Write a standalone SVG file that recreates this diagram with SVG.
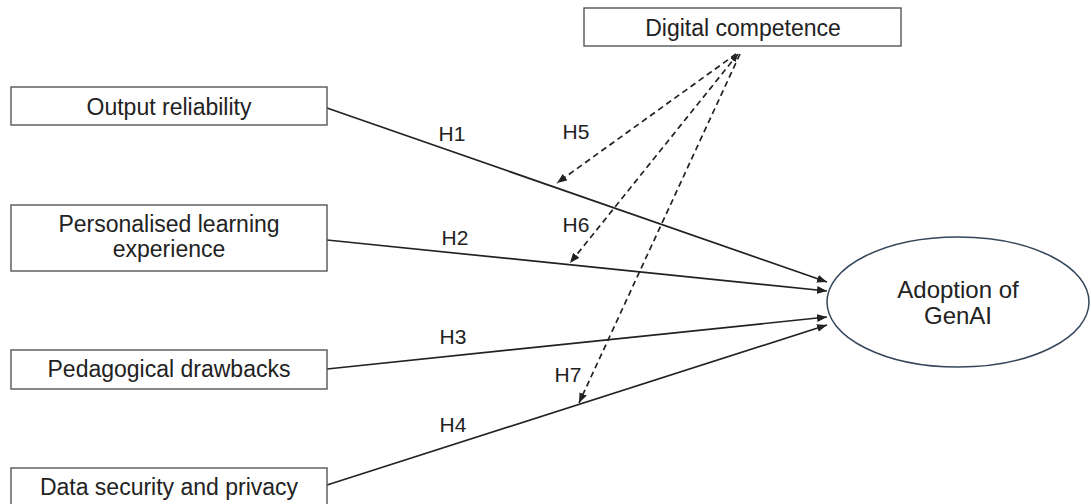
<svg xmlns="http://www.w3.org/2000/svg" width="1091" height="504" viewBox="0 0 1091 504">
<defs>
<style>
.box{fill:#fff;stroke:#555;stroke-width:1.4}
.ell{fill:#fff;stroke:#34475a;stroke-width:1.5}
.t{font-family:"Liberation Sans",Arial,sans-serif;font-size:23px;fill:#222;text-anchor:middle}
.e{font-family:"Liberation Sans",Arial,sans-serif;font-size:24px;fill:#222;text-anchor:middle}
.h{font-family:"Liberation Sans",Arial,sans-serif;font-size:21px;fill:#222;text-anchor:middle}
.solid{stroke:#222;stroke-width:1.7;fill:none;marker-end:url(#ah)}
.dash{stroke:#222;stroke-width:1.7;fill:none;stroke-dasharray:6 4;marker-end:url(#ah)}
</style>
<marker id="ah" viewBox="0 0 10 8" refX="10" refY="4" markerWidth="10" markerHeight="8" markerUnits="userSpaceOnUse" orient="auto">
<path d="M0,0 L10,4 L0,8 Z" fill="#222"/>
</marker>
<marker id="as" viewBox="0 0 10 8" refX="0" refY="4" markerWidth="8" markerHeight="7" markerUnits="userSpaceOnUse" orient="auto">
<path d="M10,0 L0,4 L10,8 Z" fill="#222"/>
</marker>
</defs>
<rect width="1091" height="504" fill="#fff"/>
<g id="connectors">
<line class="solid" x1="327" y1="108" x2="827" y2="282"/>
<line class="solid" x1="327" y1="240" x2="827" y2="291"/>
<line class="solid" x1="327" y1="369" x2="827" y2="317"/>
<line class="solid" x1="327" y1="485" x2="827" y2="325"/>
<line class="dash" x1="736" y1="54" x2="557" y2="183"/>
<line class="dash" x1="738" y1="54" x2="570" y2="263" marker-start="url(#as)"/>
<line class="dash" x1="740" y1="54" x2="579" y2="403"/>
<text class="h" x="452" y="141">H1</text>
<text class="h" x="455" y="245">H2</text>
<text class="h" x="453" y="344">H3</text>
<text class="h" x="453" y="432">H4</text>
<text class="h" x="576" y="139">H5</text>
<text class="h" x="576" y="232">H6</text>
<text class="h" x="568" y="382">H7</text>
</g>
<g id="digital-competence">
<rect class="box" x="584" y="8" width="317" height="38"/>
<text class="t" x="743" y="36">Digital competence</text>
</g>
<g id="output-reliability">
<rect class="box" x="11" y="87" width="316" height="38"/>
<text class="t" x="169" y="115">Output reliability</text>
</g>
<g id="personalised-learning">
<rect class="box" x="11" y="205" width="316" height="66"/>
<text class="t" x="169" y="232">Personalised learning</text>
<text class="t" x="169" y="257">experience</text>
</g>
<g id="pedagogical-drawbacks">
<rect class="box" x="11" y="350" width="316" height="39"/>
<text class="t" x="169" y="377">Pedagogical drawbacks</text>
</g>
<g id="data-security">
<rect class="box" x="11" y="468" width="316" height="40"/>
<text class="t" x="169" y="495">Data security and privacy</text>
</g>
<g id="adoption-genai">
<ellipse class="ell" cx="958" cy="302" rx="131" ry="65"/>
<text class="e" x="958" y="298">Adoption of</text>
<text class="e" x="958" y="324">GenAI</text>
</g>
</svg>
